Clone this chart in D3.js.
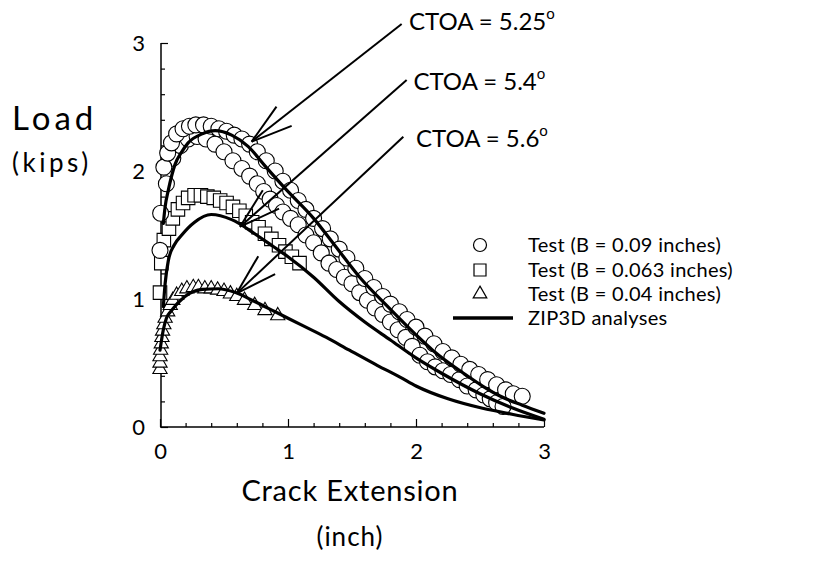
<!DOCTYPE html>
<html>
<head>
<meta charset="utf-8">
<script src="https://cdn.jsdelivr.net/npm/d3@7"></script>
<style>
  body { margin: 0; background: #fff; }
  svg { display: block; }
  text { font-family: Lato, "Open Sans", sans-serif; fill: #000; }
</style>
</head>
<body>
<svg id="chart" width="825" height="573"></svg>
<script>
// Axis ticks (inches / kips)
const majorTicks = [0, 1, 2, 3];
const minorTicks = [0.2, 0.4, 0.6, 0.8, 1.2, 1.4, 1.6, 1.8, 2.2, 2.4, 2.6, 2.8];

// ZIP3D analyses: [crack extension (in), load (kips)]
const zipCtoa525 = [[0.026,1.59],[0.04,1.72],[0.065,1.85],[0.117,2.05],[0.17,2.15],[0.22,2.22],[0.33,2.29],[0.43,2.315],[0.56,2.28],[0.69,2.19],[0.82,2.04],[0.99,1.85],[1.2,1.63],[1.38,1.40],[1.56,1.17],[1.77,0.95],[2.0,0.72],[2.13,0.60],[2.4,0.40],[2.52,0.32],[2.66,0.24],[2.83,0.17],[3.0,0.107]];
const zipCtoa540 = [[0.026,0.94],[0.04,1.12],[0.065,1.30],[0.11,1.42],[0.17,1.50],[0.27,1.60],[0.40,1.66],[0.56,1.62],[0.74,1.51],[0.885,1.41],[1.0,1.33],[1.2,1.17],[1.4,0.98],[1.6,0.82],[1.8,0.68],[2.0,0.54],[2.2,0.42],[2.5,0.26],[2.75,0.15],[3.0,0.06]];
const zipCtoa560 = [[0.0,0.60],[0.026,0.76],[0.05,0.85],[0.09,0.91],[0.195,1.02],[0.33,1.075],[0.455,1.08],[0.59,1.05],[0.74,0.98],[0.90,0.90],[1.1,0.80],[1.3,0.70],[1.48,0.60],[1.7,0.48],[1.875,0.39],[2.0,0.32],[2.25,0.22],[2.52,0.146],[2.75,0.10],[3.0,0.055]];

// Test data, B = 0.09 in (two specimens)
const testB090a = [[0.005,1.67],[0.03,2.03],[0.06,2.14],[0.09,2.22],[0.13,2.29],[0.18,2.33],[0.23,2.35],[0.28,2.36],[0.34,2.36],[0.40,2.35],[0.46,2.33],[0.52,2.31],[0.58,2.28],[0.64,2.25],[0.70,2.21],[0.76,2.15],[0.83,2.08],[0.90,2.00],[0.96,1.92],[1.02,1.85],[1.08,1.77],[1.14,1.70],[1.20,1.63],[1.27,1.55],[1.33,1.47],[1.40,1.39],[1.46,1.32],[1.53,1.24],[1.60,1.16],[1.67,1.09],[1.74,1.02],[1.80,0.96],[1.87,0.90],[1.93,0.84],[2.00,0.78],[2.07,0.71],[2.14,0.65],[2.21,0.59],[2.28,0.54],[2.35,0.49],[2.42,0.45],[2.49,0.41],[2.56,0.37],[2.63,0.33],[2.70,0.29],[2.76,0.26],[2.83,0.24]];
const testB090b = [[0.0,1.38],[0.05,1.90],[0.10,2.10],[0.16,2.20],[0.22,2.25],[0.29,2.27],[0.36,2.25],[0.43,2.21],[0.50,2.15],[0.57,2.08],[0.64,2.02],[0.70,1.96],[0.76,1.90],[0.81,1.84],[0.86,1.78],[0.91,1.73],[0.96,1.68],[1.02,1.63],[1.08,1.58],[1.14,1.50],[1.20,1.44],[1.26,1.36],[1.32,1.28],[1.38,1.23],[1.44,1.17],[1.50,1.12],[1.56,1.05],[1.62,0.99],[1.68,0.93],[1.74,0.88],[1.80,0.82],[1.86,0.76],[1.92,0.70],[1.97,0.63],[2.03,0.56],[2.09,0.51],[2.15,0.47],[2.21,0.44],[2.27,0.41],[2.34,0.37],[2.40,0.32],[2.47,0.29],[2.53,0.25],[2.58,0.22],[2.63,0.19],[2.68,0.16]];
// Test data, B = 0.063 in
const testB063 = [[0.0,1.05],[0.01,1.28],[0.03,1.46],[0.07,1.55],[0.10,1.63],[0.14,1.70],[0.18,1.75],[0.22,1.79],[0.27,1.81],[0.32,1.81],[0.37,1.80],[0.42,1.79],[0.47,1.77],[0.52,1.75],[0.57,1.72],[0.62,1.69],[0.67,1.65],[0.72,1.60],[0.77,1.56],[0.82,1.51],[0.87,1.47],[0.93,1.42],[0.98,1.37],[1.03,1.33],[1.09,1.28]];
// Test data, B = 0.04 in
const testB040 = [[0.0,0.45],[0.0,0.50],[0.0,0.55],[0.005,0.60],[0.01,0.65],[0.015,0.70],[0.02,0.75],[0.03,0.80],[0.04,0.85],[0.06,0.90],[0.08,0.95],[0.10,0.99],[0.13,1.03],[0.17,1.06],[0.21,1.08],[0.26,1.09],[0.30,1.09],[0.35,1.08],[0.40,1.08],[0.45,1.07],[0.50,1.06],[0.55,1.04],[0.60,1.02],[0.66,0.99],[0.74,0.95],[0.82,0.91],[0.92,0.87]];

// CTOA call-outs: label text, label anchor and arrow tip in data units
const ctoaLabels = ["5.25", "5.4", "5.6"];
const ctoaLabelPos = [[1.945, 3.10], [1.98, 2.63], [2.0, 2.185]];
const ctoaTailPos = [[1.888, 3.148], [1.927, 2.711], [1.901, 2.268]];
const ctoaTipPos = [[0.716, 2.229], [0.625, 1.565], [0.599, 1.044]];

const legendLabels = ["Test (B = 0.09 inches)", "Test (B = 0.063 inches)", "Test (B = 0.04 inches)", "ZIP3D analyses"];

const svg = d3.select("#chart");
const x = d3.scaleLinear().domain([0, 3]).range([160, 544]);
const y = d3.scaleLinear().domain([0, 3]).range([427, 43]);

// Axes: inward ticks, minor every 0.2
const axes = svg.append("g");
axes.append("g").attr("transform", "translate(0,427)")
  .call(d3.axisBottom(x).tickValues(minorTicks).tickSize(-4).tickFormat(""));
axes.append("g").attr("transform", "translate(0,427)")
  .call(d3.axisBottom(x).tickValues(majorTicks).tickSize(-8).tickPadding(16).tickFormat(d3.format("d")));
axes.append("g").attr("transform", "translate(161,0)")
  .call(d3.axisLeft(y).tickValues(minorTicks).tickSize(-4).tickFormat(""));
axes.append("g").attr("transform", "translate(161,0)")
  .call(d3.axisLeft(y).tickValues(majorTicks).tickSize(-7).tickPadding(16).tickFormat(d3.format("d")));
axes.selectAll(".domain").attr("d", null);
axes.selectAll("line").attr("stroke", "#000").attr("stroke-width", 1.2);
axes.selectAll("text").attr("font-size", 22).attr("font-family", "Lato, sans-serif").attr("fill", "#000");
axes.append("line").attr("x1", x(0)).attr("x2", x(3)).attr("y1", 427).attr("y2", 427).attr("stroke", "#000").attr("stroke-width", 1.5);
axes.append("line").attr("x1", 161).attr("x2", 161).attr("y1", y(3)).attr("y2", y(0)).attr("stroke", "#000").attr("stroke-width", 1.5);

// Markers
const marks = svg.append("g").attr("fill", "#fff").attr("stroke", "#000").attr("stroke-width", 1.1);
const circ = d3.symbol().type(d3.symbolCircle).size(Math.PI * 8 * 8);
const sq = d3.symbol().type(d3.symbolSquare).size(13.5 * 13.5);
const tri = d3.symbol().type(d3.symbolTriangle).size(88);

function drawSeries(data, sym) {
  marks.append("g").selectAll("path").data(data).join("path")
    .attr("d", sym)
    .attr("transform", d => `translate(${x(d[0])},${y(d[1])})`);
}
drawSeries(testB040, tri);
drawSeries(testB063, sq);
drawSeries(testB090b, circ);
drawSeries(testB090a, circ);

// Analysis curves
const line = d3.line().x(d => x(d[0])).y(d => y(d[1])).curve(d3.curveMonotoneX);
svg.append("g").selectAll("path").data([zipCtoa525, zipCtoa540, zipCtoa560]).join("path")
  .attr("d", line).attr("fill", "none").attr("stroke", "#000").attr("stroke-width", 3.2)
  .attr("stroke-linecap", "round");

// CTOA call-outs with open arrowheads
const notes = svg.append("g");
ctoaLabels.forEach((lab, i) => {
  const [tx, ty] = [x(ctoaTipPos[i][0]), y(ctoaTipPos[i][1])];
  const [sx, sy] = [x(ctoaTailPos[i][0]), y(ctoaTailPos[i][1])];
  notes.append("line").attr("x1", sx).attr("y1", sy).attr("x2", tx).attr("y2", ty)
    .attr("stroke", "#000").attr("stroke-width", 2);
  const ang = Math.atan2(sy - ty, sx - tx);
  [-0.29, 0.29].forEach(da => {
    notes.append("line").attr("x1", tx).attr("y1", ty)
      .attr("x2", tx + 43 * Math.cos(ang + da)).attr("y2", ty + 43 * Math.sin(ang + da))
      .attr("stroke", "#000").attr("stroke-width", 2);
  });
  const t = notes.append("text").attr("x", x(ctoaLabelPos[i][0])).attr("y", y(ctoaLabelPos[i][1]))
    .attr("font-size", 24);
  t.append("tspan").text(`CTOA = ${lab}`);
  t.append("tspan").attr("font-size", 15).attr("dy", -11).text("o");
});

// Legend
const lg = svg.append("g");
const rowY = [245, 270, 294, 318];
const legSyms = [d3.symbol().type(d3.symbolCircle).size(Math.PI * 6.5 * 6.5), d3.symbol().type(d3.symbolSquare).size(12 * 12), d3.symbol().type(d3.symbolTriangle).size(80)];
legSyms.forEach((s, i) => {
  lg.append("path").attr("d", s).attr("transform", `translate(480,${rowY[i]})`)
    .attr("fill", "#fff").attr("stroke", "#000").attr("stroke-width", 1.2);
});
lg.append("line").attr("x1", 453).attr("x2", 513).attr("y1", rowY[3]).attr("y2", rowY[3])
  .attr("stroke", "#000").attr("stroke-width", 3.5);
legendLabels.forEach((lab, i) => {
  lg.append("text").attr("x", 528).attr("y", rowY[i]).attr("dy", "0.35em")
    .attr("font-size", 20).attr("letter-spacing", 0.3).text(lab);
});

// Axis titles
svg.append("text").attr("x", 12).attr("y", 130).attr("font-size", 33).attr("letter-spacing", 4).text("Load");
svg.append("text").attr("x", 12).attr("y", 172).attr("font-size", 26).attr("letter-spacing", 3.5).text("(kips)");
svg.append("text").attr("x", 350).attr("y", 501).attr("text-anchor", "middle").attr("font-size", 29).attr("letter-spacing", 0.8).text("Crack Extension");
svg.append("text").attr("x", 350).attr("y", 546).attr("text-anchor", "middle").attr("font-size", 26).attr("letter-spacing", 1).text("(inch)");
</script>
</body>
</html>
